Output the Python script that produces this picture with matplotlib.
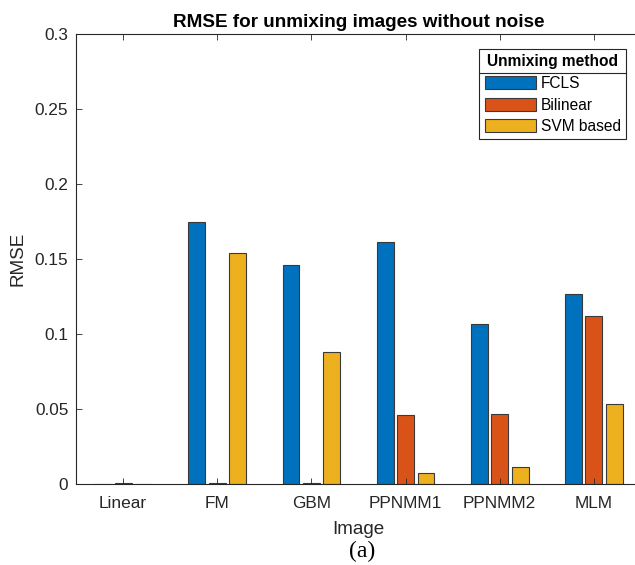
import numpy as np
import matplotlib
matplotlib.use("Agg")
import matplotlib.pyplot as plt
from matplotlib.lines import Line2D
from matplotlib.ticker import FormatStrFormatter

# data
images = ["Linear", "FM", "GBM", "PPNMM1", "PPNMM2", "MLM"]
methods = ["FCLS", "Bilinear", "SVM based"]
rmse_fcls = [0.0, 0.175, 0.1462, 0.1611, 0.1067, 0.1268]
rmse_bilinear = [0.0008, 0.0008, 0.0008, 0.0460, 0.0470, 0.1120]
rmse_svm = [0.0, 0.1538, 0.0880, 0.0075, 0.0112, 0.0532]

colors = ["#0072BD", "#D95319", "#EDB120"]
axcol = "#262626"

plt.rcParams["font.family"] = ["Liberation Sans", "DejaVu Sans"]

fig = plt.figure(figsize=(6.35, 5.65), dpi=100)
ax = fig.add_axes([76 / 635, 81 / 565, 565 / 635, 450 / 565])

x = np.arange(1, len(images) + 1)
offset = 0.217
width = 0.18
series = [rmse_fcls, rmse_bilinear, rmse_svm]
for k, (vals, col, name) in enumerate(zip(series, colors, methods)):
    ax.bar(x + (k - 1) * offset, vals, width, color=col, edgecolor="#3a3a3a",
           linewidth=0.8, label=name, zorder=2)

ax.set_xlim(0.5, 6.5)
ax.set_ylim(0, 0.3)
ax.set_xticks(x)
ax.set_xticklabels(images)
ax.set_yticks(np.arange(0, 0.301, 0.05))
ax.yaxis.set_major_formatter(FormatStrFormatter("%g"))
ax.set_axisbelow(False)

for s in ax.spines.values():
    s.set_color(axcol)
    s.set_linewidth(0.8)
ax.tick_params(direction="in", length=4, width=0.6, color=axcol, labelcolor=axcol,
               labelsize=12.4, top=True, right=True)
ax.tick_params(axis="x", pad=8.5)
ax.tick_params(axis="y", pad=5.5)

ax.set_xlabel("Image", fontsize=13.6, color=axcol, labelpad=7)
ax.set_ylabel("RMSE", fontsize=13.6, color=axcol, labelpad=6)
ax.set_title("RMSE for unmixing images without noise", fontsize=13.6,
             fontweight="bold", color="black", pad=5)

leg = ax.legend(title="Unmixing method", loc="upper right",
                bbox_to_anchor=(626 / 635, 516 / 565), bbox_transform=fig.transFigure,
                borderaxespad=0, fancybox=False, edgecolor=axcol, framealpha=1,
                fontsize=11.2, title_fontproperties={"weight": "bold", "size": 11.2},
                handlelength=3.3, handleheight=0.9, handletextpad=0.3,
                labelspacing=0.42, borderpad=0.35)
leg.get_frame().set_linewidth(0.8)

# separator line under the legend title
fig.canvas.draw()
inv = fig.transFigure.inverted()
lb = leg.get_window_extent()
tb = leg.get_title().get_window_extent()
hb = leg.legend_handles[0].get_window_extent()
yline = (tb.y0 + hb.y1) / 2
(x0, y0) = inv.transform((lb.x0, yline))
(x1, _) = inv.transform((lb.x1, yline))
fig.add_artist(Line2D([x0, x1], [y0, y0], color=axcol, linewidth=0.8,
                      transform=fig.transFigure))

fig.text(362 / 635, 14 / 565, "(a)", ha="center", va="center",
         fontsize=17, family=["Liberation Serif", "DejaVu Serif"])

fig.savefig("out.png", dpi=100)
